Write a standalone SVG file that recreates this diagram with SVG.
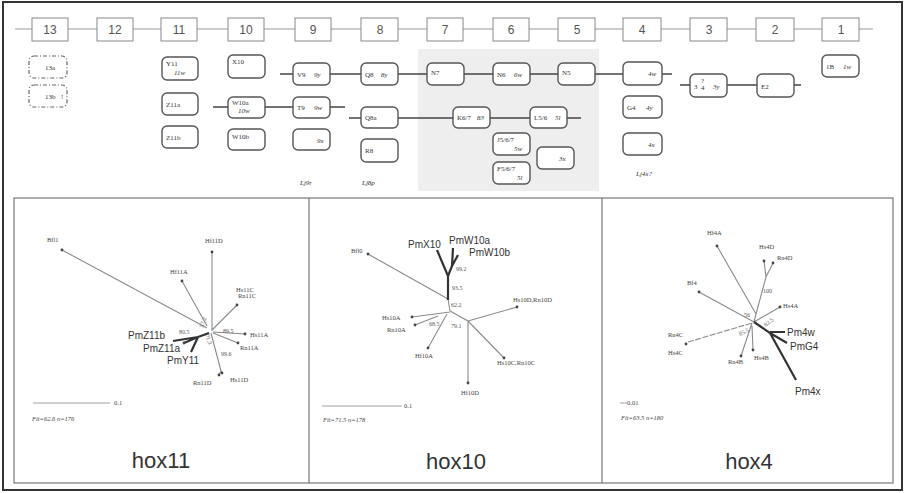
<svg xmlns="http://www.w3.org/2000/svg" width="905" height="493" viewBox="0 0 905 493">
<style>
.num{font-family:"Liberation Sans",Arial,sans-serif;font-size:12px;fill:#555;text-anchor:middle}
.nb{fill:#fff;stroke:#888;stroke-width:1}
.gn{fill:#fff;stroke:#555;stroke-width:1.4}
.gd{fill:none;stroke:#666;stroke-width:1.2;stroke-dasharray:4 2 1 2}
.gt{font-family:"Liberation Serif","Times New Roman",serif;font-size:7px;fill:#333}
.gi{font-family:"Liberation Serif","Times New Roman",serif;font-size:7px;font-style:italic;fill:#333}
.cn{stroke:#444;stroke-width:1.6;fill:none}
.axis{stroke:#999;stroke-width:1;fill:none}
.br{stroke:#8a8a8a;stroke-width:1.1;fill:none}
.pm{stroke:#333;stroke-width:2.2;fill:none}
.dot{fill:#444}
.tl{font-family:"Liberation Serif","Times New Roman",serif;font-size:6.5px;fill:#444}
.pl{font-family:"Liberation Sans",Arial,sans-serif;font-size:10px;fill:#333}
.bs{font-family:"Liberation Serif","Times New Roman",serif;font-size:6px;fill:#555}
.title{font-family:"Liberation Sans",Arial,sans-serif;font-size:22px;fill:#333;text-anchor:middle}
.panel{fill:#fff;stroke:#777;stroke-width:1.2}
</style>
<rect x="0" y="0" width="905" height="493" fill="#fff"/>
<rect x="418" y="49" width="181" height="142" fill="#eeeeee"/>
<rect x="3" y="2" width="899" height="488" fill="none" stroke="#333" stroke-width="2"/>

<!-- top axis -->
<g id="axis">
<line class="axis" x1="15" y1="29" x2="873" y2="29"/>
<g id="c13"><rect class="nb" x="32" y="18" width="36" height="23"/><text class="num" x="50" y="34">13</text></g>
<g id="c12"><rect class="nb" x="97" y="18" width="36" height="23"/><text class="num" x="115" y="34">12</text></g>
<g id="c11"><rect class="nb" x="161" y="18" width="36" height="23"/><text class="num" x="179" y="34">11</text></g>
<g id="c10"><rect class="nb" x="228" y="18" width="36" height="23"/><text class="num" x="246" y="34">10</text></g>
<g id="c9"><rect class="nb" x="295" y="18" width="36" height="23"/><text class="num" x="313" y="34">9</text></g>
<g id="c8"><rect class="nb" x="361" y="18" width="37" height="23"/><text class="num" x="380" y="34">8</text></g>
<g id="c7"><rect class="nb" x="427" y="18" width="36" height="23"/><text class="num" x="445" y="34">7</text></g>
<g id="c6"><rect class="nb" x="493" y="18" width="36" height="23"/><text class="num" x="511" y="34">6</text></g>
<g id="c5"><rect class="nb" x="558" y="18" width="37" height="23"/><text class="num" x="577" y="34">5</text></g>
<g id="c4"><rect class="nb" x="623" y="18" width="38" height="23"/><text class="num" x="642" y="34">4</text></g>
<g id="c3"><rect class="nb" x="690" y="18" width="37" height="23"/><text class="num" x="709" y="34">3</text></g>
<g id="c2"><rect class="nb" x="756" y="18" width="38" height="23"/><text class="num" x="775" y="34">2</text></g>
<g id="c1"><rect class="nb" x="822" y="18" width="37" height="23"/><text class="num" x="841" y="34">1</text></g>
</g>

<!-- connectors -->
<g id="connectors">
<path class="cn" d="M280 74H293M330 74H361M398 74H427M463 74H493M529 74H558M595 74H623M662 74H672"/>
<path class="cn" d="M680 85H690M727 85H757M794 85H801"/>
<path class="cn" d="M213 107H228M265 107H293M330 107H345"/>
<path class="cn" d="M349 118H361M398 118H453M490 118H530M567 118H581"/>
</g>

<!-- gene nodes -->
<g id="n13a"><rect class="gd" x="29" y="56" width="38" height="22" rx="5"/><text class="gt" x="45" y="70">13a</text></g>
<g id="n13b"><rect class="gd" x="29" y="85" width="38" height="22" rx="5"/><text class="gt" x="45" y="99">13b</text><text class="gt" x="61" y="99">!</text></g>
<g id="nY11"><rect class="gn" x="162" y="57" width="36" height="23" rx="5"/><text class="gt" x="166" y="66">Y11</text><text class="gi" x="174" y="75">11w</text></g>
<g id="nZ11a"><rect class="gn" x="162" y="93" width="36" height="22" rx="5"/><text class="gt" x="166" y="107">Z11a</text></g>
<g id="nZ11b"><rect class="gn" x="162" y="126" width="36" height="22" rx="5"/><text class="gt" x="166" y="140">Z11b</text></g>
<g id="nX10"><rect class="gn" x="228" y="55" width="37" height="23" rx="5"/><text class="gt" x="232" y="64">X10</text></g>
<g id="nW10a"><rect class="gn" x="228" y="97" width="37" height="21" rx="5"/><text class="gt" x="232" y="105">W10a</text><text class="gi" x="238" y="113">10w</text></g>
<g id="nW10b"><rect class="gn" x="228" y="129" width="37" height="21" rx="5"/><text class="gt" x="232" y="139">W10b</text></g>
<g id="nV9"><rect class="gn" x="293" y="63" width="37" height="22" rx="5"/><text class="gt" x="297" y="77">V9</text><text class="gi" x="314" y="77">9y</text></g>
<g id="nT9"><rect class="gn" x="293" y="97" width="37" height="21" rx="5"/><text class="gt" x="297" y="110">T9</text><text class="gi" x="314" y="110">9w</text></g>
<g id="n9x"><rect class="gn" x="293" y="129" width="37" height="21" rx="5"/><text class="gi" x="317" y="143">9x</text></g>
<g id="nQ8"><rect class="gn" x="361" y="63" width="37" height="22" rx="5"/><text class="gt" x="365" y="77">Q8</text><text class="gi" x="381" y="77">8y</text></g>
<g id="nQ8a"><rect class="gn" x="361" y="107" width="37" height="21" rx="5"/><text class="gt" x="365" y="120">Q8a</text></g>
<g id="nR8"><rect class="gn" x="361" y="139" width="37" height="23" rx="5"/><text class="gt" x="365" y="153">R8</text></g>
<g id="nN7"><rect class="gn" x="427" y="63" width="37" height="22" rx="5"/><text class="gt" x="431" y="75">N7</text></g>
<g id="nN6"><rect class="gn" x="493" y="63" width="37" height="22" rx="5"/><text class="gt" x="497" y="77">N6</text><text class="gi" x="514" y="77">6w</text></g>
<g id="nN5"><rect class="gn" x="558" y="63" width="37" height="22" rx="5"/><text class="gt" x="562" y="75">N5</text></g>
<g id="nK67"><rect class="gn" x="453" y="107" width="37" height="21" rx="5"/><text class="gt" x="457" y="120">K6/7</text><text class="gi" x="477" y="120">83</text></g>
<g id="nL56"><rect class="gn" x="530" y="107" width="37" height="21" rx="5"/><text class="gt" x="534" y="120">L5/6</text><text class="gi" x="555" y="120">5l</text></g>
<g id="nJ567"><rect class="gn" x="493" y="133" width="37" height="22" rx="5"/><text class="gt" x="497" y="142">J5/6/7</text><text class="gi" x="514" y="151">5w</text></g>
<g id="nF567"><rect class="gn" x="493" y="162" width="37" height="22" rx="5"/><text class="gt" x="497" y="171">F5/6/7</text><text class="gi" x="517" y="180">5l</text></g>
<g id="n5x"><rect class="gn" x="537" y="147" width="37" height="22" rx="5"/><text class="gi" x="559" y="161">3x</text></g>
<g id="n4w"><rect class="gn" x="623" y="62" width="39" height="23" rx="5"/><text class="gi" x="648" y="76">4w</text></g>
<g id="nG4"><rect class="gn" x="623" y="96" width="39" height="22" rx="5"/><text class="gt" x="627" y="110">G4</text><text class="gi" x="646" y="110">4y</text></g>
<g id="n4x"><rect class="gn" x="623" y="133" width="39" height="22" rx="5"/><text class="gi" x="648" y="147">4x</text></g>
<g id="n3y"><rect class="gn" x="690" y="74" width="37" height="23" rx="5"/><text class="gt" x="694" y="89">3</text><text class="gt" x="701" y="83" font-size="6">?</text><text class="gt" x="701" y="90" font-size="6">4</text><text class="gi" x="713" y="89">3y</text></g>
<g id="nE2"><rect class="gn" x="757" y="74" width="37" height="23" rx="5"/><text class="gt" x="761" y="89">E2</text></g>
<g id="n1B"><rect class="gn" x="822" y="55" width="37" height="22" rx="5"/><text class="gt" x="826" y="69">1B</text><text class="gi" x="843" y="69">1w</text></g>

<g id="lj"><text class="gi" x="300" y="185" font-size="6.5">Lj9r</text><text class="gi" x="362" y="185" font-size="6.5">Lj8p</text><text class="gi" x="636" y="176" font-size="6.5">Lj4x?</text></g>

<!-- bottom panels -->
<rect class="panel" x="14" y="198" width="879" height="285"/>
<line x1="309" y1="198" x2="309" y2="483" stroke="#777" stroke-width="1.2"/>
<line x1="602" y1="198" x2="602" y2="483" stroke="#777" stroke-width="1.2"/>

<g id="hox11">
<path class="br" d="M62 250L207 328M212 252V331M182 281L207 326M212 330L237 305M213 332L245 334M213 333L238 343M211 333L221 371M221 371L222 373M221 371L219 375"/>
<path class="pm" d="M209 333L198 337M198 337L173 341M198 337L184 343M198 337L191 352"/>
<g class="dot"><circle cx="62" cy="250" r="1.4"/><circle cx="212" cy="252" r="1.4"/><circle cx="182" cy="281" r="1.4"/><circle cx="237" cy="305" r="1.4"/><circle cx="245" cy="334" r="1.4"/><circle cx="238" cy="343" r="1.4"/><circle cx="222" cy="373" r="1.4"/><circle cx="219" cy="375" r="1.4"/><circle cx="184" cy="343" r="1.4"/></g>
<text class="tl" x="47" y="242">Bfl1</text>
<text class="tl" x="205" y="243">Hf11D</text>
<text class="tl" x="170" y="274">Hf11A</text>
<text class="tl" x="236" y="292">Hs11C</text>
<text class="tl" x="238" y="298">Rn11C</text>
<text class="tl" x="250" y="337">Hs11A</text>
<text class="tl" x="240" y="350">Rn11A</text>
<text class="tl" x="230" y="382">Hs11D</text>
<text class="tl" x="193" y="385">Rn11D</text>
<text class="pl" x="128" y="339" font-size="9.5">PmZ11b</text>
<text class="pl" x="143" y="352" font-size="9.5">PmZ11a</text>
<text class="pl" x="167" y="364" font-size="9.5">PmY11</text>
<text class="bs" x="223" y="333">89.5</text>
<text class="bs" x="179" y="334">80.5</text>
<text class="bs" x="221" y="356">99.6</text>
<text class="bs" transform="translate(203 328) rotate(-70)">57.2</text>
<text class="bs" transform="translate(205 335) rotate(70)">71.3</text>
<line x1="33" y1="403" x2="110" y2="403" stroke="#888" stroke-width="0.8"/>
<text class="tl" x="114" y="405">0.1</text>
<text class="tl" x="32" y="421" font-style="italic">Fit=62.6 n=176</text>
<text class="title" x="161" y="468">hox11</text>
</g>

<g id="hox10">
<path class="br" d="M368 254L448 299M448 299L450 311M412 317L450 312M415 325L438 316M428 348L447 314M450 311L468 321L504 358M468 321L517 307M468 321V383"/>
<path class="pm" d="M448 300V276M448 276L437 250M448 276L452 266M452 266L453 248M452 266L458 255"/>
<g class="dot"><circle cx="368" cy="254" r="1.4"/><circle cx="412" cy="317" r="1.4"/><circle cx="415" cy="325" r="1.4"/><circle cx="428" cy="348" r="1.4"/><circle cx="517" cy="307" r="1.4"/><circle cx="504" cy="358" r="1.4"/><circle cx="468" cy="383" r="1.4"/></g>
<text class="tl" x="351" y="253">Bfl0</text>
<text class="pl" x="408" y="248">PmX10</text>
<text class="pl" x="449" y="244">PmW10a</text>
<text class="pl" x="469" y="256">PmW10b</text>
<text class="bs" x="456" y="271">99.2</text>
<text class="bs" x="452" y="290">93.5</text>
<text class="bs" x="451" y="307">62.2</text>
<text class="bs" x="429" y="326">68.5</text>
<text class="bs" x="451" y="328">79.1</text>
<text class="tl" x="382" y="320">Hs10A</text>
<text class="tl" x="387" y="332">Rn10A</text>
<text class="tl" x="415" y="358">Hf10A</text>
<text class="tl" x="513" y="302">Hs10D,Rn10D</text>
<text class="tl" x="497" y="365">Hs10C,Rn10C</text>
<text class="tl" x="461" y="395">Hf10D</text>
<line x1="322" y1="406" x2="402" y2="406" stroke="#888" stroke-width="0.8"/>
<text class="tl" x="404" y="408">0.1</text>
<text class="tl" x="323" y="422" font-style="italic">Fit=71.5 n=178</text>
<text class="title" x="456" y="469">hox10</text>
</g>

<g id="hox4">
<path class="br" d="M717 246L756 314M764 261L766 277M773 263L766 277M766 277L756 314M756 314L754 322M699 292L754 322M754 322L780 307M752 323L741 356M752 326L753 350"/>
<path class="br" d="M688 342L752 323" stroke-dasharray="6 1.5"/>
<path class="pm" d="M754 322L770 333L796 380M770 332H785M770 333L787 343"/>
<g class="dot"><circle cx="717" cy="246" r="1.4"/><circle cx="764" cy="261" r="1.4"/><circle cx="773" cy="263" r="1.4"/><circle cx="699" cy="292" r="1.4"/><circle cx="780" cy="307" r="1.4"/><circle cx="686" cy="344" r="1.4"/><circle cx="741" cy="356" r="1.4"/><circle cx="753" cy="350" r="1.4"/></g>
<text class="tl" x="707" y="235">Hf4A</text>
<text class="tl" x="759" y="249">Hs4D</text>
<text class="tl" x="777" y="260">Rn4D</text>
<text class="tl" x="687" y="285">Bf4</text>
<text class="tl" x="783" y="308">Hs4A</text>
<text class="tl" x="668" y="337">Rn4C</text>
<text class="tl" x="668" y="355">Hs4C</text>
<text class="tl" x="728" y="364">Rn4B</text>
<text class="tl" x="754" y="360">Hs4B</text>
<text class="bs" x="763" y="293">100</text>
<text class="bs" x="744" y="317">56</text>
<text class="bs" transform="translate(766 327) rotate(-40)">82.5</text>
<text class="bs" transform="translate(740 336) rotate(-25)">85.5</text>
<text class="pl" x="787" y="336">Pm4w</text>
<text class="pl" x="790" y="350">PmG4</text>
<text class="pl" x="795" y="395">Pm4x</text>
<line x1="620" y1="403" x2="627" y2="403" stroke="#888" stroke-width="0.8"/>
<text class="tl" x="627" y="405">0.01</text>
<text class="tl" x="621" y="420" font-style="italic">Fit=63.5 n=180</text>
<text class="title" x="749" y="469">hox4</text>
</g>
</svg>
